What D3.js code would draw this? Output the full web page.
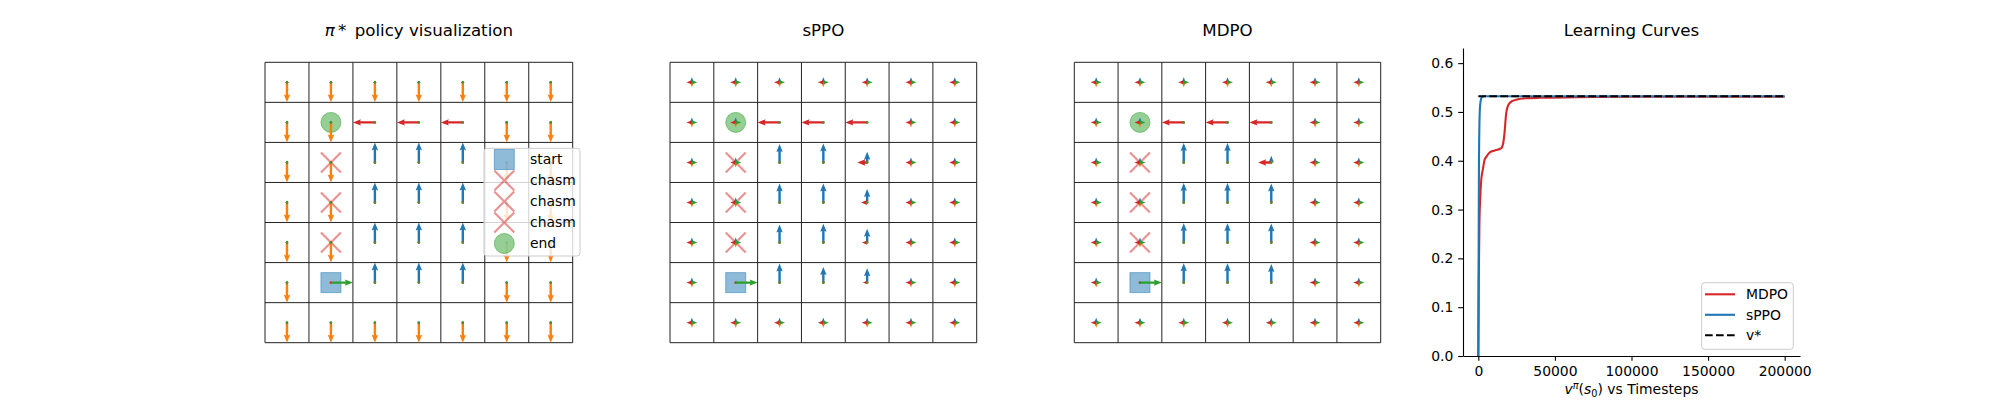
<!DOCTYPE html>
<html>
<head>
<meta charset="utf-8">
<script src="https://cdn.jsdelivr.net/npm/d3@7"></script>
<style>
  html, body { margin: 0; padding: 0; background: #fff; }
  svg { display: block; font-family: "DejaVu Sans", sans-serif; }
</style>
</head>
<body>
<svg id="chart" width="2000" height="400"></svg>
<script>
// ---------------- DATA ----------------
const nRows = 7, nCols = 7;
const actionNames = ["up", "down", "left", "right"];
const actionColors = ["#1f77b4", "#ff7f0e", "#d62728", "#2ca02c"];

const startCell = [5, 1];
const endCell = [1, 1];
const chasmCells = [[2, 1], [3, 1], [4, 1]];

// optimal policy: U/D/L/R per cell
const piStarPolicy = [
  "DDDDDDD",
  "DDLLLDD",
  "DDUUUDD",
  "DDUUUDD",
  "DDUUUDD",
  "DRUUUDD",
  "DDDDDDD"
];

// learned policies: uniform elsewhere, probabilities [up, down, left, right] on these cells
const uniformProbs = [0.25, 0.25, 0.25, 0.25];
const sppoCells = [
  { row: 1, col: 2, p: [0, 0, 1.0, 0] },
  { row: 1, col: 3, p: [0, 0, 1.0, 0] },
  { row: 1, col: 4, p: [0, 0, 1.0, 0] },
  { row: 2, col: 2, p: [0.92, 0, 0, 0] },
  { row: 2, col: 3, p: [0.95, 0, 0, 0] },
  { row: 2, col: 4, p: [0.53, 0, 0.45, 0] },
  { row: 3, col: 2, p: [0.95, 0, 0, 0] },
  { row: 3, col: 3, p: [0.95, 0, 0, 0] },
  { row: 3, col: 4, p: [0.67, 0, 0.28, 0] },
  { row: 4, col: 2, p: [0.9, 0, 0, 0] },
  { row: 4, col: 3, p: [0.94, 0, 0, 0] },
  { row: 4, col: 4, p: [0.69, 0, 0.24, 0] },
  { row: 5, col: 1, p: [0, 0, 0, 1.0] },
  { row: 5, col: 2, p: [0.95, 0, 0, 0] },
  { row: 5, col: 3, p: [0.78, 0, 0, 0] },
  { row: 5, col: 4, p: [0.72, 0, 0.2, 0] }
];
const mdpoCells = [
  { row: 1, col: 2, p: [0, 0, 1.0, 0] },
  { row: 1, col: 3, p: [0, 0, 1.0, 0] },
  { row: 1, col: 4, p: [0, 0, 1.0, 0] },
  { row: 2, col: 2, p: [0.97, 0, 0, 0] },
  { row: 2, col: 3, p: [0.97, 0, 0, 0] },
  { row: 2, col: 4, p: [0.33, 0, 0.6, 0] },
  { row: 3, col: 2, p: [0.97, 0, 0, 0] },
  { row: 3, col: 3, p: [0.97, 0, 0, 0] },
  { row: 3, col: 4, p: [0.95, 0, 0, 0] },
  { row: 4, col: 2, p: [0.97, 0, 0, 0] },
  { row: 4, col: 3, p: [0.97, 0, 0, 0] },
  { row: 4, col: 4, p: [0.95, 0, 0, 0] },
  { row: 5, col: 1, p: [0, 0, 0, 1.0] },
  { row: 5, col: 2, p: [0.97, 0, 0, 0] },
  { row: 5, col: 3, p: [0.97, 0, 0, 0] },
  { row: 5, col: 4, p: [0.93, 0, 0, 0] }
];

const gridTitles = ["π* policy visualization", "sPPO", "MDPO"];
const legendLabels = ["start", "chasm", "chasm", "chasm", "end"];

// learning curves
const mdpoSteps = [0, 300, 700, 1200, 1900, 3000, 4100, 5200, 7400, 9500, 11500, 13900, 15000, 15600, 16300, 17100, 18200, 19300, 20400, 22000, 24700, 31300, 40000, 64000, 100000, 150000, 200000];
const mdpoValues = [0, 0.15, 0.27, 0.32, 0.36, 0.383, 0.402, 0.408, 0.417, 0.42, 0.422, 0.424, 0.426, 0.429, 0.437, 0.457, 0.4975, 0.512, 0.518, 0.522, 0.525, 0.528, 0.529, 0.530, 0.531, 0.531, 0.531];
const sppoSteps = [0, 200, 400, 700, 1000, 1500, 2200, 4000, 50000, 100000, 150000, 200000];
const sppoValues = [0, 0.2, 0.38, 0.47, 0.505, 0.522, 0.53, 0.532, 0.532, 0.532, 0.532, 0.532];
const vStarSteps = [0, 200000];
const vStarValues = [0.532, 0.532];
const xTicks = [0, 50000, 100000, 150000, 200000];
const yTicks = [0, 0.1, 0.2, 0.3, 0.4, 0.5, 0.6];
const curveLegend = ["MDPO", "sPPO", "v*"];

// ---------------- DRAW ----------------
const svg = d3.select("#chart");
const FONT = "DejaVu Sans, sans-serif";

function piStarProbs(r, c) {
  const ch = piStarPolicy[r][c];
  return ["U", "D", "L", "R"].map(k => (k === ch ? 1 : 0));
}
function makeGetter(cells) {
  return (r, c) => {
    const f = cells.find(d => d.row === r && d.col === c);
    return f ? f.p : uniformProbs;
  };
}
const probGetters = [piStarProbs, makeGetter(sppoCells), makeGetter(mdpoCells)];

const panelBoxes = [
  { x0: 265, x1: 572.7 },
  { x0: 670, x1: 976.7 },
  { x0: 1074.3, x1: 1380.7 }
];
const gy0 = 62.3, gy1 = 342.7;

// arrow geometry
const HW = 1.2, HHW = 3.2, HL = 8, HAL = 7.2;
function arrowPath(x, y, dx, dy, L) {
  let pts;
  if (L >= HL) {
    pts = [[0, -HW], [L - HAL, -HW], [L - HL, -HHW], [L, 0], [L - HL, HHW], [L - HAL, HW], [0, HW]];
  } else {
    const k = L / HL;
    pts = [[0, -HW], [HL - HAL, -HW], [0, -HHW], [HL, 0], [0, HHW], [HL - HAL, HW], [0, HW]].map(p => [p[0] * k, p[1] * k]);
  }
  return "M" + pts.map(p => [x + p[0] * dx - p[1] * dy, y + p[0] * dy + p[1] * dx].map(v => v.toFixed(2)).join(",")).join("L") + "Z";
}

const dirs = [[0, -1], [0, 1], [-1, 0], [1, 0]];

panelBoxes.forEach((box, pi) => {
  const g = svg.append("g");
  const xs = d3.scaleLinear().domain([0, nCols]).range([box.x0, box.x1]);
  const ys = d3.scaleLinear().domain([0, nRows]).range([gy0, gy1]);

  // title
  const t = g.append("text")
    .attr("x", (box.x0 + box.x1) / 2).attr("y", 36)
    .attr("text-anchor", "middle")
    .attr("font-size", 16.67).attr("font-family", FONT).attr("fill", "#000");
  if (pi === 0) {
    t.append("tspan").attr("font-style", "italic").text("π");
    t.append("tspan").text("\u2009*\u2002policy visualization");
  } else {
    t.text(gridTitles[pi]);
  }

  // grid lines
  g.append("g").selectAll("line.v").data(d3.range(nCols + 1)).join("line")
    .attr("x1", d => xs(d)).attr("x2", d => xs(d))
    .attr("y1", gy0).attr("y2", gy1)
    .attr("stroke", "#222").attr("stroke-width", 1);
  g.append("g").selectAll("line.h").data(d3.range(nRows + 1)).join("line")
    .attr("y1", d => ys(d)).attr("y2", d => ys(d))
    .attr("x1", box.x0).attr("x2", box.x1)
    .attr("stroke", "#222").attr("stroke-width", 1);

  // markers
  const cx = c => xs(c + 0.5), cy = r => ys(r + 0.5);
  g.append("rect")
    .attr("x", cx(startCell[1]) - 10).attr("y", cy(startCell[0]) - 10)
    .attr("width", 20).attr("height", 20)
    .attr("fill", "#1f77b4").attr("fill-opacity", 0.5)
    .attr("stroke", "#1f77b4").attr("stroke-opacity", 0.5).attr("stroke-width", 1);
  g.append("circle")
    .attr("cx", cx(endCell[1])).attr("cy", cy(endCell[0])).attr("r", 10)
    .attr("fill", "#2ca02c").attr("fill-opacity", 0.5)
    .attr("stroke", "#2ca02c").attr("stroke-opacity", 0.5).attr("stroke-width", 1);
  g.append("g").selectAll("path").data(chasmCells).join("path")
    .attr("d", d => {
      const x = cx(d[1]), y = cy(d[0]), s = 10;
      return `M${x - s},${y - s}L${x + s},${y + s}M${x - s},${y + s}L${x + s},${y - s}`;
    })
    .attr("stroke", "#d62728").attr("stroke-opacity", 0.5).attr("stroke-width", 2.2).attr("fill", "none");

  // arrows, layered by action
  const getP = probGetters[pi];
  const cellW = xs(1) - xs(0), cellH = ys(1) - ys(0);
  actionNames.forEach((a, ai) => {
    const arr = [];
    for (let r = 0; r < nRows; r++) for (let c = 0; c < nCols; c++) {
      const p = getP(r, c)[ai];
      const [dx, dy] = dirs[ai];
      const L = p * 0.5 * (dx !== 0 ? cellW : cellH);
      arr.push({ x: cx(c), y: cy(r), dx, dy, L });
    }
    const layer = g.append("g");
    layer.selectAll("path").data(arr.filter(d => d.L >= 1.5)).join("path")
      .attr("d", d => arrowPath(d.x, d.y, d.dx, d.dy, d.L))
      .attr("fill", actionColors[ai]);
    layer.selectAll("circle").data(arr.filter(d => d.L < 1.5)).join("circle")
      .attr("cx", d => d.x).attr("cy", d => d.y).attr("r", 1.2)
      .attr("fill", actionColors[ai]);
  });

  // legend for first panel
  if (pi === 0) {
    const lg = g.append("g");
    lg.append("rect").attr("x", 484).attr("y", 148.3).attr("width", 96).attr("height", 107.7)
      .attr("rx", 3).attr("fill", "#fff").attr("fill-opacity", 0.8)
      .attr("stroke", "#cccccc").attr("stroke-width", 1);
    const rowY = d3.scaleLinear().domain([0, 4]).range([159.5, 243.5]);
    const mx = 504.3;
    legendLabels.forEach((lab, i) => {
      const y = rowY(i);
      if (i === 0) {
        lg.append("rect").attr("x", mx - 10).attr("y", y - 10).attr("width", 20).attr("height", 20)
          .attr("fill", "#1f77b4").attr("fill-opacity", 0.5)
          .attr("stroke", "#1f77b4").attr("stroke-opacity", 0.5);
      } else if (i === 4) {
        lg.append("circle").attr("cx", mx).attr("cy", y).attr("r", 10)
          .attr("fill", "#2ca02c").attr("fill-opacity", 0.5)
          .attr("stroke", "#2ca02c").attr("stroke-opacity", 0.5);
      } else {
        lg.append("path").attr("d", `M${mx - 10},${y - 10}L${mx + 10},${y + 10}M${mx - 10},${y + 10}L${mx + 10},${y - 10}`)
          .attr("stroke", "#d62728").attr("stroke-opacity", 0.5).attr("stroke-width", 2.2);
      }
      lg.append("text").attr("x", 530).attr("y", y + 4.8)
        .attr("font-size", 13.9).attr("font-family", FONT).attr("fill", "#000").text(lab);
    });
  }
});

// ---------------- Learning curves ----------------
const lc = svg.append("g");
const x = d3.scaleLinear().domain([-10000, 210000]).range([1463, 1800]);
const y = d3.scaleLinear().domain([0, 0.631]).range([356, 48]);

lc.append("text").attr("x", (1463 + 1800) / 2).attr("y", 36)
  .attr("text-anchor", "middle").attr("font-size", 16.67).attr("font-family", FONT)
  .text("Learning Curves");

const line = d3.line().x(d => x(d[0])).y(d => y(d[1])).curve(d3.curveMonotoneX);
lc.append("path").datum(d3.zip(mdpoSteps, mdpoValues)).attr("d", line)
  .attr("fill", "none").attr("stroke", "#d62728").attr("stroke-width", 2.1);
lc.append("path").datum(d3.zip(sppoSteps, sppoValues)).attr("d", line)
  .attr("fill", "none").attr("stroke", "#1f77b4").attr("stroke-width", 2.1);
lc.append("path").datum(d3.zip(vStarSteps, vStarValues)).attr("d", d3.line().x(d => x(d[0])).y(d => y(d[1])))
  .attr("fill", "none").attr("stroke", "#000").attr("stroke-width", 2.1)
  .attr("stroke-dasharray", "7.7,3.3");

const xAxis = d3.axisBottom(x).tickValues(xTicks).tickFormat(d3.format("d"))
  .tickSizeInner(4.86).tickSizeOuter(0).tickPadding(4.86);
const yAxis = d3.axisLeft(y).tickValues(yTicks).tickFormat(d3.format(".1f"))
  .tickSizeInner(4.86).tickSizeOuter(0).tickPadding(4.86);
const gx = lc.append("g").attr("transform", "translate(0,356)").call(xAxis);
const gyA = lc.append("g").attr("transform", "translate(1463,0)").call(yAxis);
[gx, gyA].forEach(ga => {
  ga.selectAll("text").attr("font-size", 13.9).attr("font-family", FONT).attr("fill", "#000");
  ga.selectAll("line").attr("stroke", "#000").attr("stroke-width", 1.1);
  ga.select(".domain").attr("stroke", "#000").attr("stroke-width", 1.1);
});

// x label
const xl = lc.append("text").attr("x", (1463 + 1800) / 2).attr("y", 394)
  .attr("text-anchor", "middle").attr("font-size", 13.9).attr("font-family", FONT);
xl.append("tspan").attr("font-style", "italic").text("v");
xl.append("tspan").attr("font-size", 9.7).attr("dy", -5.5).attr("font-style", "italic").text("π");
xl.append("tspan").attr("dy", 5.5).text("(");
xl.append("tspan").attr("font-style", "italic").text("s");
xl.append("tspan").attr("font-size", 9.7).attr("dy", 2.5).text("0");
xl.append("tspan").attr("dy", -2.5).text(") vs Timesteps");

// legend
const lgc = lc.append("g");
lgc.append("rect").attr("x", 1701.7).attr("y", 282.7).attr("width", 91.6).attr("height", 66.6)
  .attr("rx", 3).attr("fill", "#fff").attr("fill-opacity", 0.8)
  .attr("stroke", "#cccccc").attr("stroke-width", 1);
const legColors = ["#d62728", "#1f77b4", "#000"];
const legY = d3.scaleLinear().domain([0, 2]).range([294.3, 335.3]);
curveLegend.forEach((lab, i) => {
  const yy = legY(i);
  lgc.append("line").attr("x1", 1705).attr("x2", 1735).attr("y1", yy).attr("y2", yy)
    .attr("stroke", legColors[i]).attr("stroke-width", 2.1)
    .attr("stroke-dasharray", i === 2 ? "7.7,3.3" : null);
  lgc.append("text").attr("x", 1746).attr("y", yy + 4.8)
    .attr("font-size", 13.9).attr("font-family", FONT).text(lab);
});
</script>
</body>
</html>
